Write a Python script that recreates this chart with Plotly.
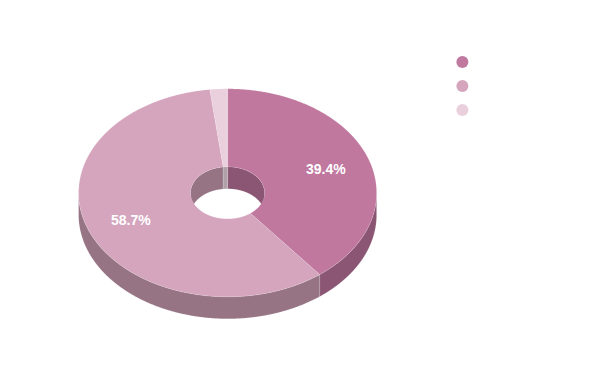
import numpy as np
import plotly.graph_objects as go

shares = [39.4, 58.7, 1.9]
labels = ["39.4%", "58.7%", ""]
top_colors = ["#C0789F", "#D5A5BE", "#EACFDC"]
side_colors = ["#8B5673", "#967484", "#B0A0A8"]

CX, CY, RX, RY, HX, HY, DEPTH = 227.6, 192.8, 149, 104, 37, 26, 22
EDGE = "rgba(255,255,255,0.22)"


def arc(a0, a1, rx, ry, dy=0):
    n = max(2, int(abs(a1 - a0) * 4) + 2)
    t = np.radians(np.linspace(a0, a1, n))
    return CX + rx * np.sin(t), CY - ry * np.cos(t) + dy


def poly(xs, ys, color, line=EDGE):
    return go.Scatter(
        x=np.concatenate(xs), y=np.concatenate(ys), mode="lines", fill="toself",
        fillcolor=color, line=dict(color=line, width=0.6, simplify=False),
        hoverinfo="skip", showlegend=False,
    )


edges = np.concatenate([[0], np.cumsum(shares) / sum(shares) * 360])
traces = []

# inner wall (back half of the hole)
for i, col in enumerate(side_colors):
    for a0, a1 in [(edges[i], edges[i + 1]), (edges[i] - 360, edges[i + 1] - 360)]:
        lo, hi = max(a0, -90), min(a1, 90)
        if lo < hi:
            x1, y1 = arc(lo, hi, HX, HY)
            x2, y2 = arc(hi, lo, HX, HY, DEPTH)
            traces.append(poly([x1, x2, x1[:1]], [y1, y2, y1[:1]], col))

# outer wall (front half of the rim)
for i, col in enumerate(side_colors):
    lo, hi = max(edges[i], 90), min(edges[i + 1], 270)
    if lo < hi:
        x1, y1 = arc(lo, hi, RX, RY)
        x2, y2 = arc(hi, lo, RX, RY, DEPTH)
        traces.append(poly([x1, x2, x1[:1]], [y1, y2, y1[:1]], col))

# top faces
for i, col in enumerate(top_colors):
    x1, y1 = arc(edges[i], edges[i + 1], RX, RY)
    x2, y2 = arc(edges[i + 1], edges[i], HX, HY)
    traces.append(poly([x1, x2, x1[:1]], [y1, y2, y1[:1]], col))

# legend markers (the reference shows markers only)
traces.append(go.Scatter(
    x=[462.4] * len(shares), y=[62, 86, 110], mode="markers",
    marker=dict(size=12, color=top_colors, line=dict(width=0)),
    hoverinfo="skip", showlegend=False,
))

fig = go.Figure(traces)

for i, text in enumerate(labels):
    if text:
        mid = np.radians((edges[i] + edges[i + 1]) / 2)
        fig.add_annotation(
            x=CX + 0.70 * RX * np.sin(mid), y=CY - 0.69 * RY * np.cos(mid),
            text=f"<b>{text}</b>", showarrow=False,
            font=dict(family="Liberation Sans", size=14, color="white"),
        )

fig.update_layout(
    width=600, height=371, margin=dict(l=0, r=0, t=0, b=0),
    paper_bgcolor="white", plot_bgcolor="white", showlegend=False,
    xaxis=dict(range=[0, 600], visible=False, fixedrange=True),
    yaxis=dict(range=[371, 0], visible=False, fixedrange=True),
)
fig.write_html(
    "out.html",
    config={"displayModeBar": False},
    post_script="document.body.style.margin='0';document.documentElement.style.overflow='hidden';",
)
